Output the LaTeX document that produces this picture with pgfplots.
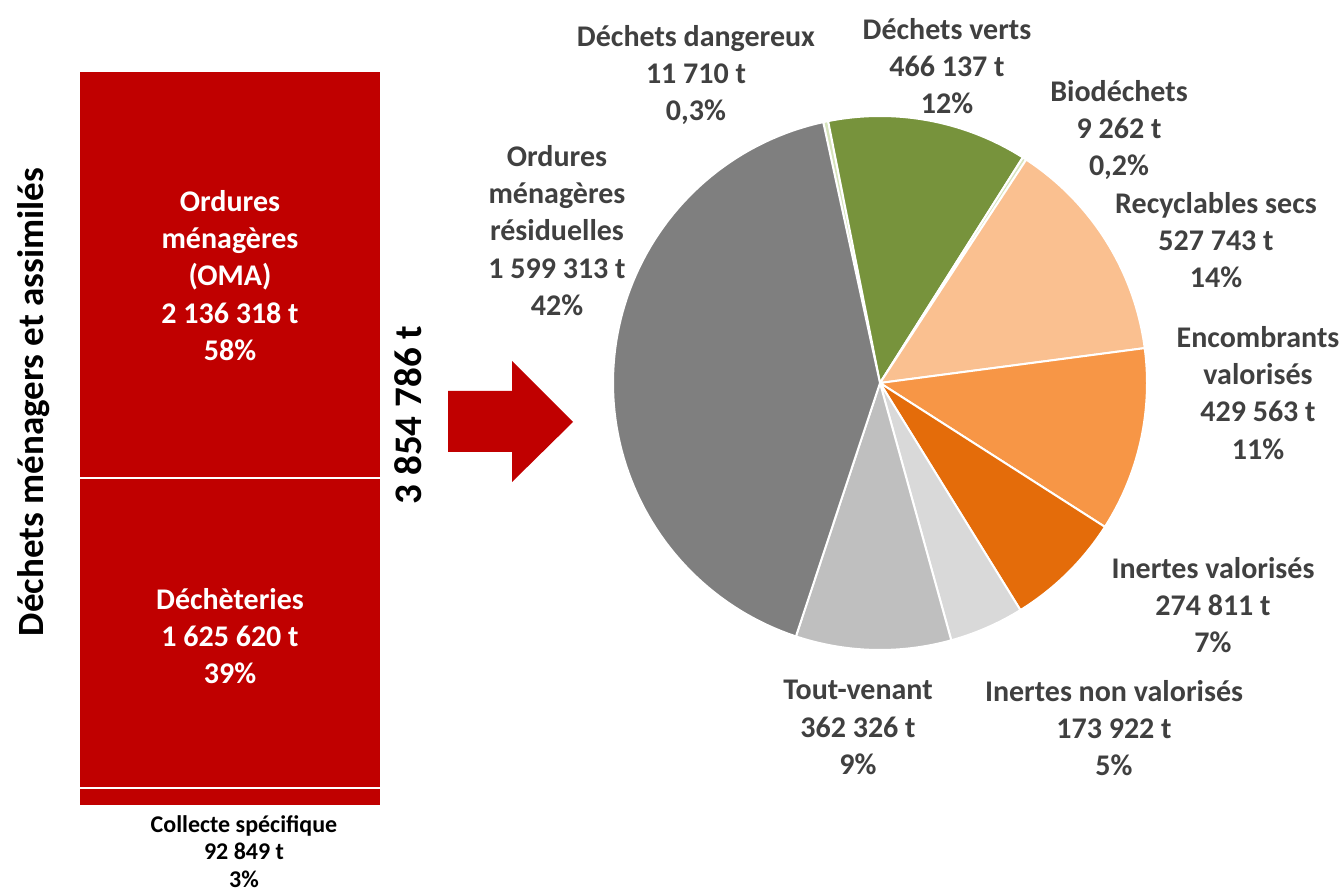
\documentclass[border=0pt]{standalone}
\usepackage{pgfplots}
\pgfplotsset{compat=1.18}
\usepackage{fontspec}
\setmainfont{Carlito}
\definecolor{rouge}{HTML}{C00000}
\definecolor{lbl}{HTML}{404040}
\definecolor{cOMR}{HTML}{7F7F7F}
\definecolor{cDD}{HTML}{D7E4BD}
\definecolor{cDV}{HTML}{77933C}
\definecolor{cBio}{HTML}{D7E4BD}
\definecolor{cRS}{HTML}{FAC090}
\definecolor{cEV}{HTML}{F79646}
\definecolor{cIV}{HTML}{E46C0A}
\definecolor{cINV}{HTML}{D9D9D9}
\definecolor{cTV}{HTML}{BFBFBF}
% pie slice from a value (thousand tonnes), drawn clockwise from \aStart
\newcommand\slice[2]{%
  \pgfmathsetmacro\aEnd{\aStart-#1/\tot*360}%
  \edef\tmp{\noexpand\addplot[fill=#2,draw=white,line width=1pt,domain=\aEnd:\aStart,samples=90] ({cos(x)},{sin(x)}) -- (axis cs:0,0) -- cycle;}%
  \tmp
  \xdef\aStart{\aEnd}%
}
\begin{document}
\begin{tikzpicture}
\path[use as bounding box] (0,0) rectangle (669.5pt,-446pt);
% ---- stacked bar (pixel 79,806 -> pt)
\begin{axis}[at={(39.5pt,-403pt)},anchor=south west,scale only axis,width=151pt,height=367.5pt,
  hide axis,ybar stacked,bar width=151pt,xmin=-0.5,xmax=0.5,ymin=0,ymax=3854.787,clip=false]
\addplot[fill=rouge,draw=white,line width=1pt] coordinates {(0,92.849)};
\addplot[fill=rouge,draw=white,line width=1pt] coordinates {(0,1625.620)};
\addplot[fill=rouge,draw=white,line width=1pt] coordinates {(0,2136.318)};
\end{axis}
% ---- pie (centre pixel 880,383)
\begin{axis}[at={(440pt,-191.5pt)},anchor=center,scale only axis,width=267pt,height=267pt,
  hide axis,xmin=-1,xmax=1,ymin=-1,ymax=1,clip=false]
\pgfmathsetmacro\tot{11.710+466.137+9.262+527.743+429.563+274.811+173.922+362.326+1599.313}
\xdef\aStart{102.3}
\slice{11.710}{cDD}
\slice{466.137}{cDV}
\slice{9.262}{cBio}
\slice{527.743}{cRS}
\slice{429.563}{cEV}
\slice{274.811}{cIV}
\slice{173.922}{cINV}
\slice{362.326}{cTV}
\slice{1599.313}{cOMR}
\end{axis}
\begin{scope}[x=0.5pt,y=-0.5pt]
% ---- arrow
\fill[rouge] (448,391) -- (512,391) -- (512,361) -- (573,422) -- (512,482) -- (512,452) -- (448,452) -- cycle;
% ---- labels
\tikzset{lb/.style={align=center,inner sep=0pt,anchor=north,text=lbl,font=\fontsize{15}{18.6}\selectfont\bfseries}}
\node[lb] at (696,25) {Déchets dangereux\\11 710 t\\0,3\%};
\node[lb] at (947,18) {Déchets verts\\466 137 t\\12\%};
\node[lb] at (1119,80) {Biodéchets\\9 262 t\\0,2\%};
\node[lb] at (1216,192) {Recyclables secs\\527 743 t\\14\%};
\node[lb] at (1258,326) {Encombrants\\valorisés\\429 563 t\\11\%};
\node[lb] at (1213,557) {Inertes valorisés\\274 811 t\\7\%};
\node[lb] at (1114,680) {Inertes non valorisés\\173 922 t\\5\%};
\node[lb] at (858,680) {Tout-venant\\362 326 t\\9\%};
\node[lb] at (557,145) {Ordures\\ménagères\\résiduelles\\1 599 313 t\\42\%};
\node[lb,text=white] at (230,190) {Ordures\\ménagères\\(OMA)\\2 136 318 t\\58\%};
\node[lb,text=white] at (230,588) {Déchèteries\\1 625 620 t\\39\%};
\node[lb,text=black,font=\fontsize{12}{13.8}\selectfont\bfseries] at (244,815) {Collecte spécifique\\92 849 t\\3\%};
\node[rotate=90,anchor=base,inner sep=0pt,font=\fontsize{18.5}{22}\selectfont\bfseries] at (43,402) {Déchets ménagers et assimilés};
\node[rotate=90,anchor=base,inner sep=0pt,font=\fontsize{19.5}{22}\selectfont\bfseries] at (421,415) {3 854 786 t};
\end{scope}
\end{tikzpicture}
\end{document}
